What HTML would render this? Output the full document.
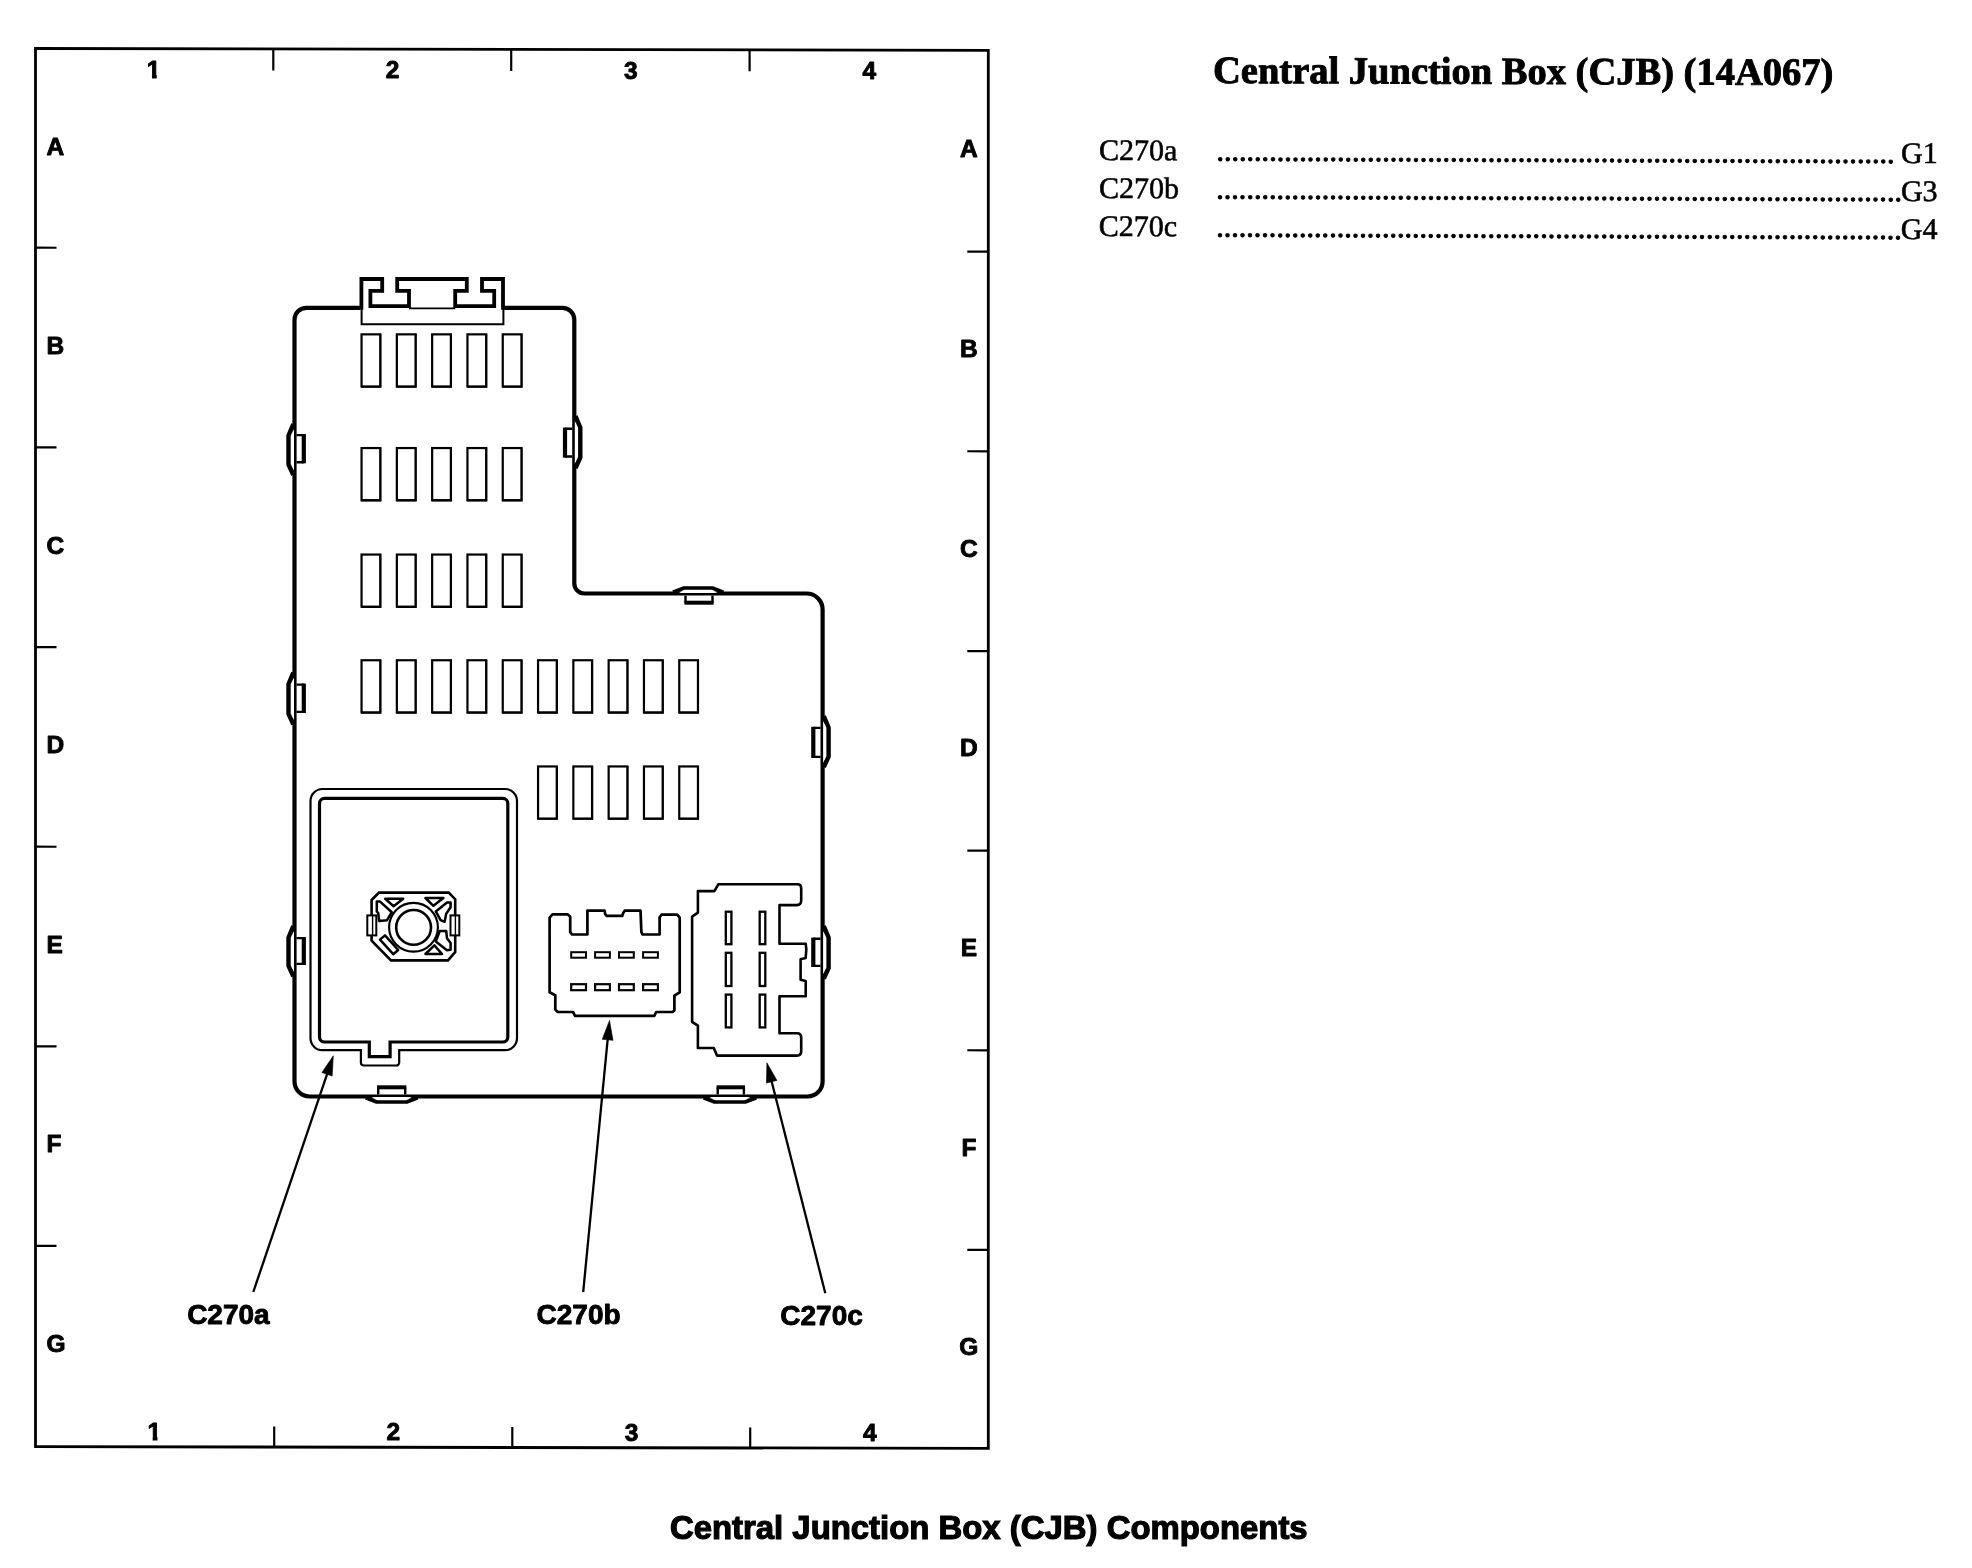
<!DOCTYPE html>
<html><head><meta charset="utf-8"><title>Central Junction Box (CJB) Components</title>
<style>
html,body{margin:0;padding:0;background:#fff;}
body{width:1972px;height:1568px;position:relative;overflow:hidden;filter:grayscale(1);}
svg{position:absolute;left:0;top:0;}
svg *{vector-effect:none;}
.g{fill:none;stroke:#000;stroke-linejoin:miter;stroke-linecap:butt;}
.lab text, text.lab{font-family:"Liberation Sans",sans-serif;font-weight:bold;fill:#000;stroke:#000;stroke-width:0.9;stroke-linejoin:round;}
.t{position:absolute;white-space:nowrap;color:#000;line-height:1;}
#title{left:1213.2px;top:47.6px;font:bold 38.5px "Liberation Serif",serif;-webkit-text-stroke:0.9px #000;transform:rotate(0.18deg);transform-origin:0 100%;}
#list{position:absolute;left:1099px;top:132.8px;width:838.6px;height:114px;transform:rotate(0.21deg);transform-origin:0 50%;font:30px "Liberation Serif",serif;-webkit-text-stroke:0.55px #000;}
#list .row{position:absolute;left:0;width:100%;height:38px;white-space:nowrap;}
#list .k{position:absolute;left:0;top:0;}
#list .d{position:absolute;left:117.3px;top:0;letter-spacing:0.035px;-webkit-text-stroke:0.95px #000;}
#list .v{position:absolute;right:0;top:0;}
#cap{left:669.9px;top:1508.6px;font:bold 32.9px "Liberation Sans",sans-serif;-webkit-text-stroke:1.2px #000;}
</style></head>
<body>
<svg width="1972" height="1568" viewBox="0 0 1972 1568"><g class="g">
<g transform="matrix(1,0.00189,0,1,0,-0.968)">
<rect x="35.50" y="49.40" width="952.80" height="1398.10" stroke-width="2.8" />
<line x1="273.30" y1="49.40" x2="273.30" y2="70.90" stroke-width="2.2" />
<line x1="511.20" y1="49.40" x2="511.20" y2="70.90" stroke-width="2.2" />
<line x1="749.60" y1="49.40" x2="749.60" y2="70.90" stroke-width="2.2" />
<line x1="274.20" y1="1447.50" x2="274.20" y2="1427.00" stroke-width="2.2" />
<line x1="512.30" y1="1447.50" x2="512.30" y2="1427.00" stroke-width="2.2" />
<line x1="750.20" y1="1447.50" x2="750.20" y2="1427.00" stroke-width="2.2" />
<line x1="35.50" y1="248.60" x2="56.50" y2="248.60" stroke-width="2.2" />
<line x1="35.50" y1="448.20" x2="56.50" y2="448.20" stroke-width="2.2" />
<line x1="35.50" y1="648.00" x2="56.50" y2="648.00" stroke-width="2.2" />
<line x1="35.50" y1="847.60" x2="56.50" y2="847.60" stroke-width="2.2" />
<line x1="35.50" y1="1047.20" x2="56.50" y2="1047.20" stroke-width="2.2" />
<line x1="35.50" y1="1246.80" x2="56.50" y2="1246.80" stroke-width="2.2" />
<line x1="988.30" y1="250.80" x2="967.30" y2="250.80" stroke-width="2.2" />
<line x1="988.30" y1="450.40" x2="967.30" y2="450.40" stroke-width="2.2" />
<line x1="988.30" y1="650.20" x2="967.30" y2="650.20" stroke-width="2.2" />
<line x1="988.30" y1="849.80" x2="967.30" y2="849.80" stroke-width="2.2" />
<line x1="988.30" y1="1049.40" x2="967.30" y2="1049.40" stroke-width="2.2" />
<line x1="988.30" y1="1249.00" x2="967.30" y2="1249.00" stroke-width="2.2" />
</g>
<g class="lab" font-size="24.5">
<text x="153.6" y="77.6" text-anchor="middle">1</text>
<text x="392.6" y="78.0" text-anchor="middle">2</text>
<text x="630.8" y="78.5" text-anchor="middle">3</text>
<text x="869.3" y="78.9" text-anchor="middle">4</text>
<text x="154.3" y="1439.7" text-anchor="middle">1</text>
<text x="393.3" y="1440.2" text-anchor="middle">2</text>
<text x="631.6" y="1440.8" text-anchor="middle">3</text>
<text x="869.8" y="1441.4" text-anchor="middle">4</text>
<text x="46.4" y="154.9">A</text>
<text x="968.9" y="157.2" text-anchor="middle">A</text>
<text x="46.4" y="354.4">B</text>
<text x="968.9" y="356.9" text-anchor="middle">B</text>
<text x="46.4" y="553.8">C</text>
<text x="968.9" y="556.5" text-anchor="middle">C</text>
<text x="46.4" y="753.2">D</text>
<text x="968.9" y="756.2" text-anchor="middle">D</text>
<text x="46.4" y="952.7">E</text>
<text x="968.9" y="955.8" text-anchor="middle">E</text>
<text x="46.4" y="1152.2">F</text>
<text x="968.9" y="1155.5" text-anchor="middle">F</text>
<text x="46.4" y="1351.6">G</text>
<text x="968.9" y="1355.1" text-anchor="middle">G</text>
</g>
<rect x="145.40" y="74.40" width="6.55" height="5.6" fill="#fff" stroke="none"/>
<rect x="156.75" y="74.40" width="6.4" height="5.6" fill="#fff" stroke="none"/>
<rect x="146.10" y="1436.50" width="6.55" height="5.6" fill="#fff" stroke="none"/>
<rect x="157.45" y="1436.50" width="6.4" height="5.6" fill="#fff" stroke="none"/>
<path d="M294.5,319.8 A12,12 0 0 1 306.5,307.8 H360 M504.5,307.8 H562.3 A12,12 0 0 1 574.3,319.8 V583.5 A10,10 0 0 0 584.3,593.5 H806.6 A16,16 0 0 1 822.6,609.5 V1081.5 A15,15 0 0 1 807.6,1096.5 H309.5 A15,15 0 0 1 294.5,1081.5 V319.8" stroke-width="4.2" />
<rect x="361.55" y="334.35" width="18.70" height="52.10" stroke-width="2.2" />
<path d="M380.60,333.80 V387.00 H361.00" stroke-width="1.5" />
<rect x="396.85" y="334.35" width="18.70" height="52.10" stroke-width="2.2" />
<path d="M415.90,333.80 V387.00 H396.30" stroke-width="1.5" />
<rect x="432.15" y="334.35" width="18.70" height="52.10" stroke-width="2.2" />
<path d="M451.20,333.80 V387.00 H431.60" stroke-width="1.5" />
<rect x="467.45" y="334.35" width="18.70" height="52.10" stroke-width="2.2" />
<path d="M486.50,333.80 V387.00 H466.90" stroke-width="1.5" />
<rect x="502.75" y="334.35" width="18.70" height="52.10" stroke-width="2.2" />
<path d="M521.80,333.80 V387.00 H502.20" stroke-width="1.5" />
<rect x="361.55" y="448.05" width="18.70" height="52.10" stroke-width="2.2" />
<path d="M380.60,447.50 V500.70 H361.00" stroke-width="1.5" />
<rect x="396.85" y="448.05" width="18.70" height="52.10" stroke-width="2.2" />
<path d="M415.90,447.50 V500.70 H396.30" stroke-width="1.5" />
<rect x="432.15" y="448.05" width="18.70" height="52.10" stroke-width="2.2" />
<path d="M451.20,447.50 V500.70 H431.60" stroke-width="1.5" />
<rect x="467.45" y="448.05" width="18.70" height="52.10" stroke-width="2.2" />
<path d="M486.50,447.50 V500.70 H466.90" stroke-width="1.5" />
<rect x="502.75" y="448.05" width="18.70" height="52.10" stroke-width="2.2" />
<path d="M521.80,447.50 V500.70 H502.20" stroke-width="1.5" />
<rect x="361.55" y="554.55" width="18.70" height="52.10" stroke-width="2.2" />
<path d="M380.60,554.00 V607.20 H361.00" stroke-width="1.5" />
<rect x="396.85" y="554.55" width="18.70" height="52.10" stroke-width="2.2" />
<path d="M415.90,554.00 V607.20 H396.30" stroke-width="1.5" />
<rect x="432.15" y="554.55" width="18.70" height="52.10" stroke-width="2.2" />
<path d="M451.20,554.00 V607.20 H431.60" stroke-width="1.5" />
<rect x="467.45" y="554.55" width="18.70" height="52.10" stroke-width="2.2" />
<path d="M486.50,554.00 V607.20 H466.90" stroke-width="1.5" />
<rect x="502.75" y="554.55" width="18.70" height="52.10" stroke-width="2.2" />
<path d="M521.80,554.00 V607.20 H502.20" stroke-width="1.5" />
<rect x="361.55" y="660.25" width="18.70" height="52.10" stroke-width="2.2" />
<path d="M380.60,659.70 V712.90 H361.00" stroke-width="1.5" />
<rect x="396.85" y="660.25" width="18.70" height="52.10" stroke-width="2.2" />
<path d="M415.90,659.70 V712.90 H396.30" stroke-width="1.5" />
<rect x="432.15" y="660.25" width="18.70" height="52.10" stroke-width="2.2" />
<path d="M451.20,659.70 V712.90 H431.60" stroke-width="1.5" />
<rect x="467.45" y="660.25" width="18.70" height="52.10" stroke-width="2.2" />
<path d="M486.50,659.70 V712.90 H466.90" stroke-width="1.5" />
<rect x="502.75" y="660.25" width="18.70" height="52.10" stroke-width="2.2" />
<path d="M521.80,659.70 V712.90 H502.20" stroke-width="1.5" />
<rect x="538.05" y="660.25" width="18.70" height="52.10" stroke-width="2.2" />
<path d="M557.10,659.70 V712.90 H537.50" stroke-width="1.5" />
<rect x="573.35" y="660.25" width="18.70" height="52.10" stroke-width="2.2" />
<path d="M592.40,659.70 V712.90 H572.80" stroke-width="1.5" />
<rect x="608.65" y="660.25" width="18.70" height="52.10" stroke-width="2.2" />
<path d="M627.70,659.70 V712.90 H608.10" stroke-width="1.5" />
<rect x="643.95" y="660.25" width="18.70" height="52.10" stroke-width="2.2" />
<path d="M663.00,659.70 V712.90 H643.40" stroke-width="1.5" />
<rect x="679.25" y="660.25" width="18.70" height="52.10" stroke-width="2.2" />
<path d="M698.30,659.70 V712.90 H678.70" stroke-width="1.5" />
<rect x="538.05" y="766.45" width="18.70" height="52.10" stroke-width="2.2" />
<path d="M557.10,765.90 V819.10 H537.50" stroke-width="1.5" />
<rect x="573.35" y="766.45" width="18.70" height="52.10" stroke-width="2.2" />
<path d="M592.40,765.90 V819.10 H572.80" stroke-width="1.5" />
<rect x="608.65" y="766.45" width="18.70" height="52.10" stroke-width="2.2" />
<path d="M627.70,765.90 V819.10 H608.10" stroke-width="1.5" />
<rect x="643.95" y="766.45" width="18.70" height="52.10" stroke-width="2.2" />
<path d="M663.00,765.90 V819.10 H643.40" stroke-width="1.5" />
<rect x="679.25" y="766.45" width="18.70" height="52.10" stroke-width="2.2" />
<path d="M698.30,765.90 V819.10 H678.70" stroke-width="1.5" />
<path d="M361.4,309.8 V279.0 H382.2 V290.8 H370.4 V306.2 H409.0 V290.8 H397.2 V279.0 H466.8 V290.8 H455.2 V306.2 H494.2 V290.8 H482.0 V279.0 H503.0 V309.8" stroke-width="3.8" stroke-linejoin="miter"/>
<line x1="409.00" y1="308.40" x2="455.20" y2="308.40" stroke-width="1.6" />
<path d="M361.6,307.8 V324.2 H503.4 V307.8" stroke-width="2" />
<path d="M294.00,429.00 L290.30,436.00 V464.00 L294.00,471.00 Z" fill="#fff" stroke="none"/>
<path d="M293.30,424.00 L288.50,435.50 V464.50 L293.30,475.00" stroke-width="4.4" stroke-linejoin="round"/>
<path d="M296.50,435.10 H303.80 M296.50,462.20 H303.80" stroke-width="2.4" />
<line x1="303.80" y1="434.00" x2="303.80" y2="463.30" stroke-width="4.2" />
<path d="M294.00,677.50 L290.30,684.50 V713.40 L294.00,720.40 Z" fill="#fff" stroke="none"/>
<path d="M293.30,672.50 L288.50,684.00 V713.90 L293.30,724.40" stroke-width="4.4" stroke-linejoin="round"/>
<path d="M296.50,684.60 H303.80 M296.50,711.90 H303.80" stroke-width="2.4" />
<line x1="303.80" y1="683.50" x2="303.80" y2="713.00" stroke-width="4.2" />
<path d="M294.00,931.00 L290.30,938.00 V965.30 L294.00,972.30 Z" fill="#fff" stroke="none"/>
<path d="M293.30,926.00 L288.50,937.50 V965.80 L293.30,976.30" stroke-width="4.4" stroke-linejoin="round"/>
<path d="M296.50,938.10 H303.80 M296.50,963.90 H303.80" stroke-width="2.4" />
<line x1="303.80" y1="937.00" x2="303.80" y2="965.00" stroke-width="4.2" />
<path d="M574.80,421.00 L578.50,428.00 V457.00 L574.80,464.00 Z" fill="#fff" stroke="none"/>
<path d="M575.50,416.00 L580.30,427.50 V457.50 L575.50,468.00" stroke-width="4.4" stroke-linejoin="round"/>
<path d="M572.30,428.70 H565.00 M572.30,456.50 H565.00" stroke-width="2.4" />
<line x1="565.00" y1="427.60" x2="565.00" y2="457.60" stroke-width="4.2" />
<path d="M823.10,721.00 L826.80,728.00 V756.20 L823.10,763.20 Z" fill="#fff" stroke="none"/>
<path d="M823.80,716.00 L828.60,727.50 V756.70 L823.80,767.20" stroke-width="4.4" stroke-linejoin="round"/>
<path d="M820.60,727.90 H813.30 M820.60,756.90 H813.30" stroke-width="2.4" />
<line x1="813.30" y1="726.80" x2="813.30" y2="758.00" stroke-width="4.2" />
<path d="M823.10,931.00 L826.80,938.00 V967.50 L823.10,974.50 Z" fill="#fff" stroke="none"/>
<path d="M823.80,926.00 L828.60,937.50 V968.00 L823.80,978.50" stroke-width="4.4" stroke-linejoin="round"/>
<path d="M820.60,938.70 H813.30 M820.60,965.90 H813.30" stroke-width="2.4" />
<line x1="813.30" y1="937.60" x2="813.30" y2="967.00" stroke-width="4.2" />
<path d="M679.00,593.00 L685.00,589.60 H711.40 L717.40,593.00 Z" fill="#fff" stroke="none"/>
<path d="M673.00,592.30 L684.00,588.00 H712.40 L723.40,592.30" stroke-width="3.7" stroke-linejoin="round"/>
<path d="M685.50,595.50 V602.70 M712.50,595.50 V602.70" stroke-width="2.4" />
<line x1="684.40" y1="602.70" x2="713.60" y2="602.70" stroke-width="4.0" />
<path d="M371.70,1097.00 L377.70,1100.40 H405.70 L411.70,1097.00 Z" fill="#fff" stroke="none"/>
<path d="M365.70,1097.70 L376.70,1102.00 H406.70 L417.70,1097.70" stroke-width="3.7" stroke-linejoin="round"/>
<path d="M378.20,1094.50 V1087.30 M405.20,1094.50 V1087.30" stroke-width="2.4" />
<line x1="377.10" y1="1087.30" x2="406.30" y2="1087.30" stroke-width="4.0" />
<path d="M709.60,1097.00 L715.60,1100.40 H744.30 L750.30,1097.00 Z" fill="#fff" stroke="none"/>
<path d="M703.60,1097.70 L714.60,1102.00 H745.30 L756.30,1097.70" stroke-width="3.7" stroke-linejoin="round"/>
<path d="M717.70,1094.50 V1087.30 M743.90,1094.50 V1087.30" stroke-width="2.4" />
<line x1="716.60" y1="1087.30" x2="745.00" y2="1087.30" stroke-width="4.0" />
<path d="M310.5,801.0 A12,12 0 0 1 322.5,789.0 H505.0 A12,12 0 0 1 517.0,801.0 V1038.2 A12,12 0 0 1 505.0,1050.2 H399.2 V1062.5 A3,3 0 0 1 396.2,1065.5 H363.9 A3,3 0 0 1 360.9,1062.5 V1050.2 H322.5 A12,12 0 0 1 310.5,1038.2 Z" stroke-width="2.2" />
<path d="M319.5,803.4 A5,5 0 0 1 324.5,798.4 H502.8 A5,5 0 0 1 507.8,803.4 V1037.0 A5,5 0 0 1 502.8,1042.0 H390.1 V1056.6 H369.3 V1042.0 H324.5 A5,5 0 0 1 319.5,1037.0 Z" stroke-width="3.2" />
<path d="M371.60,900.00 L379.00,892.60 L448.70,892.60 L455.20,899.20 L455.20,952.00 L448.00,960.40 L391.00,960.40 L371.60,940.60 Z" stroke-width="2.6" />
<rect x="367.3" y="915.4" width="9.0" height="20.0" stroke-width="2" fill="#fff"/>
<line x1="372.60" y1="916.00" x2="372.60" y2="935.00" stroke-width="1.4" />
<rect x="450.5" y="915.4" width="8.8" height="20.0" stroke-width="2" fill="#fff"/>
<line x1="455.40" y1="916.00" x2="455.40" y2="935.00" stroke-width="1.4" />
<circle cx="413.5" cy="927.2" r="24.4" stroke-width="2.2" fill="#fff"/>
<circle cx="413.6" cy="927.4" r="17.4" stroke-width="2.6"/>
<path d="M385.20,898.80 L403.20,898.80 L393.60,906.20 Z" stroke-width="2.5" stroke-linejoin="round"/>
<path d="M425.40,898.00 L443.40,898.00 L433.40,905.80 Z" stroke-width="2.5" stroke-linejoin="round"/>
<path d="M425.40,954.00 L442.00,954.00 L434.40,945.40 Z" stroke-width="2.5" stroke-linejoin="round"/>
<path d="M380.00,939.60 L385.00,935.40 L398.20,950.00 L393.20,954.20 Z" stroke-width="2.5" stroke-linejoin="round"/>
<path d="M376.80,901.40 L379.80,901.40 L391.80,912.20 L387.00,920.20 L379.20,921.00 L378.20,913.00 L376.80,911.40 Z" stroke-width="2.5" stroke-linejoin="round"/>
<path d="M450.60,902.60 L447.00,902.60 L435.80,911.40 L440.60,920.20 L444.60,921.80 L446.20,913.80 L450.60,907.20 Z" stroke-width="2.5" stroke-linejoin="round"/>
<path d="M439.80,931.00 L446.20,931.00 L447.00,938.20 L450.60,943.00 L450.60,949.80 L447.00,950.20 L435.80,941.40 Z" stroke-width="2.5" stroke-linejoin="round"/>
<path d="M549.60,917.70 L552.50,914.40 L567.80,914.40 L570.20,916.80 L570.20,932.10 L572.10,934.50 L587.40,934.50 L587.40,910.60 L604.60,910.60 L605.10,913.90 L606.50,915.80 L622.30,915.80 L623.20,913.00 L624.70,910.60 L640.50,910.60 L641.40,932.10 L642.40,934.50 L659.60,934.50 L659.60,917.30 L661.50,914.70 L677.30,914.70 L679.70,917.70 L679.70,992.30 L674.40,995.70 L674.40,1010.50 L672.50,1012.00 L656.20,1012.00 L654.30,1015.80 L575.00,1015.80 L573.00,1012.00 L557.70,1012.00 L555.30,1009.60 L555.30,995.20 L549.60,992.30 Z" stroke-width="2.7" stroke-linejoin="round"/>
<rect x="571.20" y="952.20" width="14.80" height="5.50" stroke-width="2" />
<rect x="571.20" y="984.20" width="14.80" height="6.00" stroke-width="2.2" />
<rect x="595.10" y="952.20" width="14.80" height="5.50" stroke-width="2" />
<rect x="595.10" y="984.20" width="14.80" height="6.00" stroke-width="2.2" />
<rect x="619.00" y="952.20" width="14.80" height="5.50" stroke-width="2" />
<rect x="619.00" y="984.20" width="14.80" height="6.00" stroke-width="2.2" />
<rect x="643.10" y="952.20" width="14.80" height="5.50" stroke-width="2" />
<rect x="643.10" y="984.20" width="14.80" height="6.00" stroke-width="2.2" />
<path d="M697.9,891.1 H714.4 L718.3,884.3 H797.2 Q801.2,884.3 801.2,888.3 V900.6 Q801.2,905.1 796.7,905.1 H779.5 V943.7 H805.7 L806.3,949.1 L805.7,958.0 L800.6,959.3 V979.7 L805.7,981.0 V996.3 H779.5 V1033.3 H797.0 Q801.2,1033.3 801.2,1037.5 V1051.2 Q801.2,1055.6 796.8,1055.6 H717.0 L713.8,1048.0 H697.9 V1025.7 L692.1,1021.8 V916.6 L697.9,912.7 Z" stroke-width="2.6" stroke-linejoin="round"/>
<rect x="725.80" y="911.70" width="5.60" height="32.50" stroke-width="2.3" />
<rect x="725.80" y="952.80" width="5.60" height="33.20" stroke-width="2.3" />
<rect x="725.80" y="994.60" width="5.60" height="32.80" stroke-width="2.3" />
<rect x="759.70" y="911.70" width="5.60" height="32.50" stroke-width="2.3" />
<rect x="759.70" y="952.80" width="5.60" height="33.20" stroke-width="2.3" />
<rect x="759.70" y="994.60" width="5.60" height="32.80" stroke-width="2.3" />
<line x1="253.30" y1="1292.00" x2="327.69" y2="1072.38" stroke-width="2.3" />
<path d="M333.30,1055.80 L332.16,1076.00 L321.93,1072.54 Z" fill="#000" stroke="#000" stroke-width="0.6"/>
<line x1="583.20" y1="1292.00" x2="607.81" y2="1037.82" stroke-width="2.3" />
<path d="M609.50,1020.40 L613.00,1040.33 L602.25,1039.29 Z" fill="#000" stroke="#000" stroke-width="0.6"/>
<line x1="825.30" y1="1293.20" x2="771.20" y2="1079.76" stroke-width="2.3" />
<path d="M766.90,1062.80 L776.93,1080.38 L766.46,1083.03 Z" fill="#000" stroke="#000" stroke-width="0.6"/>
<g class="lab" font-size="28">
<text x="228.4" y="1323.6" text-anchor="middle">C270a</text>
<text x="578.6" y="1324.4" text-anchor="middle">C270b</text>
<text x="821.6" y="1325.4" text-anchor="middle">C270c</text>
</g>
</g></svg>
<div class="t" id="title">Central Junction Box (CJB) (14A067)</div>
<div id="list">
<div class="row" style="top:0"><span class="k">C270a</span><span class="d">..........................................................................................</span><span class="v">G1</span></div>
<div class="row" style="top:38px"><span class="k">C270b</span><span class="d">...........................................................................................</span><span class="v">G3</span></div>
<div class="row" style="top:76px"><span class="k">C270c</span><span class="d">...........................................................................................</span><span class="v">G4</span></div>
</div>
<div class="t" id="cap">Central Junction Box (CJB) Components</div>
</body></html>
